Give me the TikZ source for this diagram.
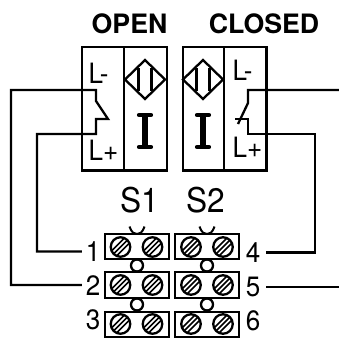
\documentclass[tikz,border=0pt]{standalone}
\usepackage{fontspec}
\setmainfont{TeX Gyre Heros}
\newfontfamily\narrowfont[FakeStretch=0.93]{TeX Gyre Heros}
\tikzset{
  ln/.style={line width=2.3pt,black,line join=miter},
  body/.style={ln,draw,fill=white},
  lbl/.style={inner sep=0pt,anchor=base,font=\narrowfont\fontsize{28}{28}\selectfont},
  big/.style={inner sep=0pt,anchor=base,font=\narrowfont\fontsize{34}{34}\selectfont},
  head/.style={inner sep=0pt,anchor=base,font=\fontsize{26.7}{26.7}\selectfont\bfseries},
  numl/.style={lbl,minimum width=22pt},
  numr/.style={lbl,minimum width=26pt},
  term/.style={body,rectangle,inner sep=0pt,minimum width=64pt,minimum height=25.5pt},
  screw/.style={ln,draw,circle,inner sep=0pt,minimum size=19.5pt},
  link/.style={body,circle,inner sep=0pt,minimum size=12pt},
}
\newcommand{\screwat}[3]{%
  \node[screw] (#1) at (#2,#3) {};
  \begin{scope}
    \clip (#2,#3) circle (9.7);
    \draw[black,line width=1.5pt] (#2-10,#3+10) -- (#2+10,#3-10)
      (#2-13,#3+8) -- (#2+8,#3-13) (#2-8,#3+13) -- (#2+13,#3-8);
  \end{scope}
}
\newcommand{\sensor}[4]{% x-left of box, divider x, x-right, symbol centre
  \draw[ln] (#1,47) rectangle (#3,170.5);
  \draw[ln] (#2,47) -- (#2,170.5);
  \draw[ln] (#4-20,79.5) -- (#4,60) -- (#4+20,79.5) -- (#4,99) -- cycle;
  \draw[ln] (#4-6.5,68) -- (#4-6.5,91) (#4+6.5,68) -- (#4+6.5,91);
  \draw[line width=5.5pt,black] (#4,115) -- (#4,147);
  \draw[line width=4.6pt,black,line cap=round] (#4-5.8,115) -- (#4+5.8,115) (#4-5.8,147) -- (#4+5.8,147);
}
\newcommand{\vmark}[1]{%
  \draw[ln,line width=2pt] (#1-7.5,226.5) .. controls (#1-5,233) and (#1-3,234) .. (#1,234) .. controls (#1+3,234) and (#1+5,233) .. (#1+7.5,226.5);
}
\begin{document}
\begin{tikzpicture}[x=1pt,y=-1pt]
\useasboundingbox (0,0) rectangle (339,338);
% headings
\node[head] (open) at (129.5,33) {OPEN};
\node[head] (closed) at (264,33) {CLOSED};
% sensors
\sensor{82}{124}{167}{145}
\sensor{183}{224}{266.5}{203}
\node[lbl,anchor=base west] (lm1) at (88.5,83.5) {L-};
\node[lbl,anchor=base west] (lp1) at (88.5,160.5) {L+};
\node[lbl,anchor=base west] (lm2) at (232.5,80.5) {L-};
\node[lbl,anchor=base west] (lp2) at (232.5,157.5) {L+};
\node[big] (s1) at (139.5,212) {S1};
\node[big] (s2) at (206,212) {S2};
% terminals
\vmark{137}\vmark{207}
\foreach \n/\x/\y in {t1/137/246.5,t2/137/285,t3/137/324.5,t4/207/246.5,t5/207/285,t6/207/324.5}
  \node[term] (\n) at (\x,\y) {};
\node[link] (c1) at (137,265.5) {};
\node[link] (c2) at (137,304.5) {};
\node[link] (c3) at (207,265.5) {};
\node[link] (c4) at (207,304.5) {};
\screwat{a1}{120.5}{247}\screwat{a2}{152.5}{247}
\screwat{a3}{120.5}{285}\screwat{a4}{152.5}{285}
\screwat{a5}{120.5}{324}\screwat{a6}{152.5}{324}
\screwat{a7}{191}{247}\screwat{a8}{223}{247}
\screwat{a9}{191}{285}\screwat{a10}{223}{285}
\screwat{a11}{191}{324}\screwat{a12}{223}{324}
% numbers
\node[numl] (n1) at (93,261.5) {1};
\node[numl] (n2) at (93,295) {2};
\node[numl] (n3) at (93,329.5) {3};
\node[numr] (n4) at (253,262.5) {4};
\node[numr] (n5) at (253,296.5) {5};
\node[numr] (n6) at (253,330.5) {6};
% wiring
\coordinate (e1) at (339,90);
\coordinate (e2) at (339,287);
\draw[ln] (n2.west) -| (11,90) -- (96,90) -- (96,101) -- (108,119) -- (96,119) -- (96,134) -- (37,134) |- (n1.west);
\draw[ln] (e1) -- (248,90) -- (248,103) -- (238,124);
\draw[ln] (235,119) -- (248,119) -- (248,134) -- (315,134) |- (n4.east);
\draw[ln] (n5.east) -- (n5.east -| e2);
\end{tikzpicture}
\end{document}
